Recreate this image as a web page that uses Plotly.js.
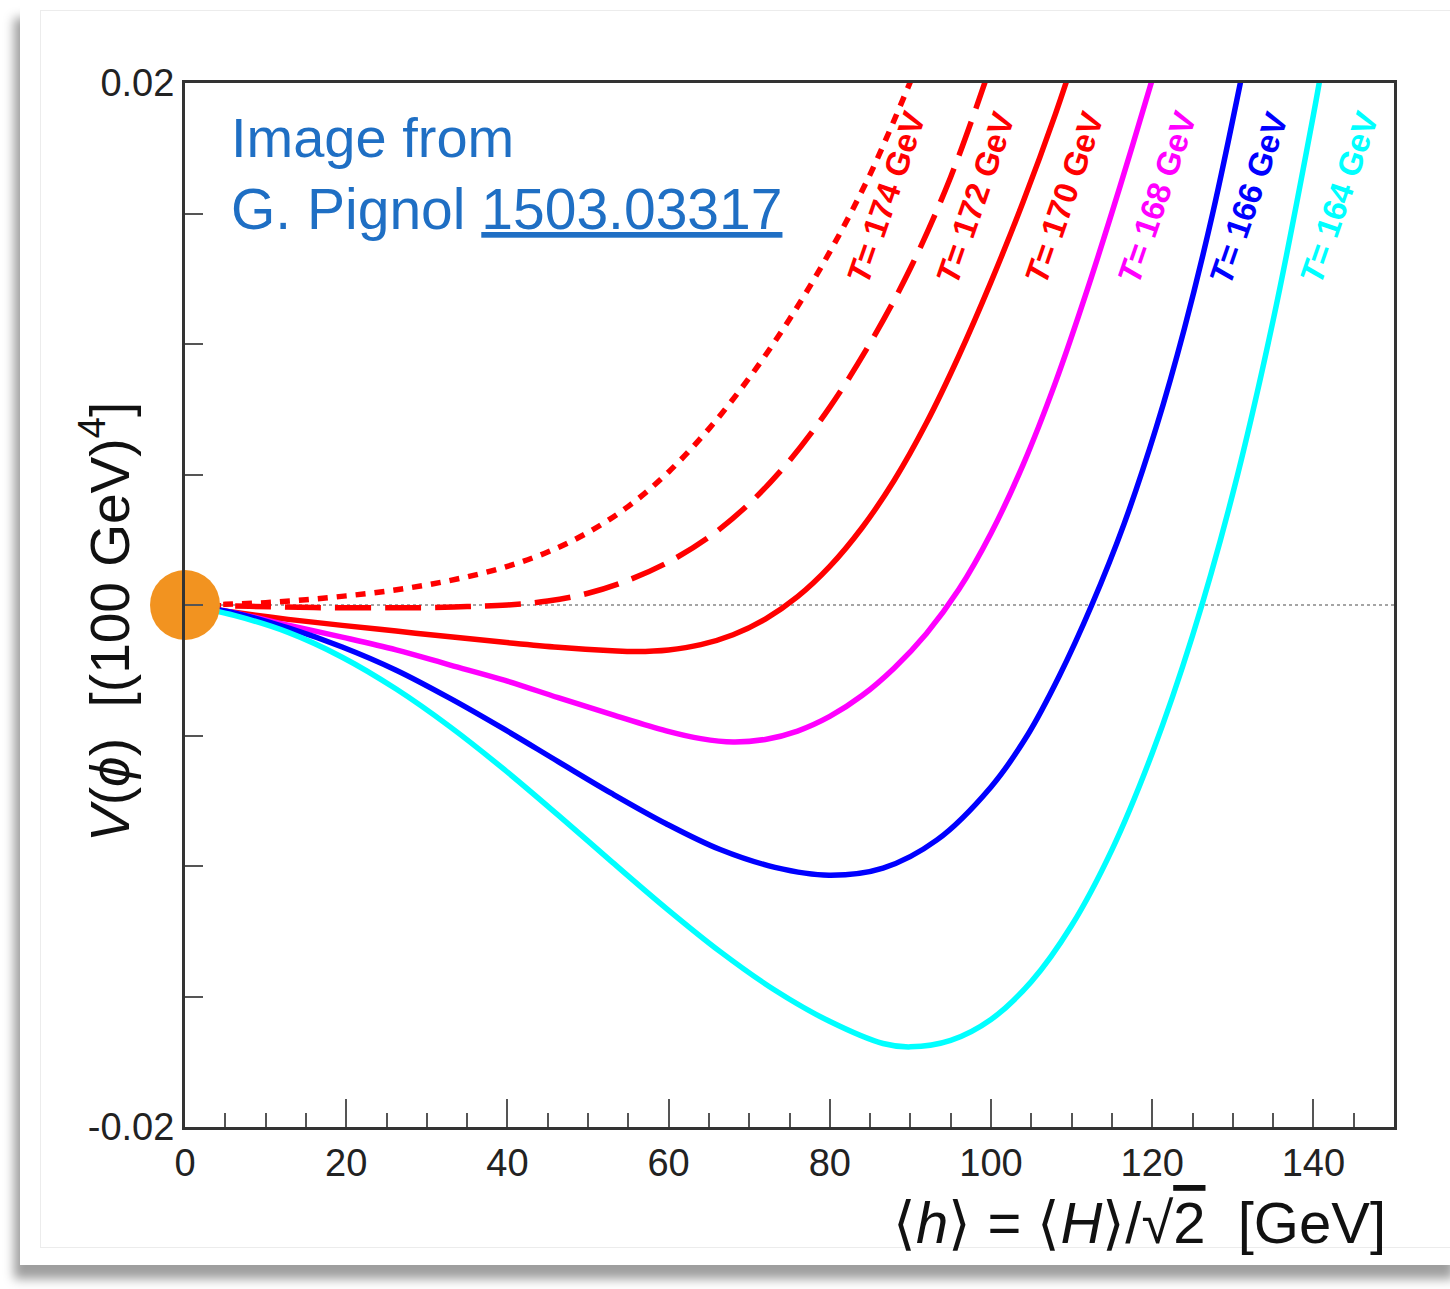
<!DOCTYPE html>
<html>
<head>
<meta charset="utf-8">
<script src="https://cdn.plot.ly/plotly-3.0.1.min.js"></script>
<style>
  html, body { margin:0; padding:0; background:#ffffff; width:1450px; height:1289px; overflow:hidden; }
  #card { position:absolute; left:20px; top:4px; width:1440px; height:1261px; background:#ffffff;
          box-shadow: -6px 14px 10px rgba(0,0,0,0.38); }
  #inner { position:absolute; left:40px; top:10px; width:1420px; height:1236px;
           border-top:1px solid #ececec; border-left:1px solid #ececec; border-bottom:1px solid #ececec; }
  #chart { position:absolute; left:0; top:0; width:1450px; height:1289px; }
</style>
</head>
<body>
<div id="card"></div>
<div id="inner"></div>
<div id="chart"></div>
<script>
// ---- data ----
// x: <h> in GeV, y: V(phi) in (100 GeV)^4
const h174 = [0, 5, 10, 15, 20, 25, 30, 35, 40, 45, 50, 55, 60, 65, 70, 75, 80, 85, 90, 91];
const v174 = [0, 0.000025, 0.00009, 0.0002, 0.00035, 0.00053, 0.00077, 0.00108, 0.00148, 0.00203, 0.00278, 0.00378, 0.0051, 0.00675, 0.0087, 0.01095, 0.01353, 0.0165, 0.02005, 0.0208];

const h172 = [0, 8, 16, 24, 30, 35, 40, 45, 50, 55, 60, 65, 70, 75, 80, 85, 90, 95, 100];
const v172 = [0, -0.00005, -0.0001, -0.00011, -0.0001, -0.00006, 0, 0.00015, 0.00045, 0.00095, 0.00165, 0.0026, 0.00388, 0.00553, 0.00758, 0.01003, 0.0129, 0.0164, 0.0207];

const h170 = [0, 6.1, 12.8, 19.5, 26.2, 32.9, 39.6, 46.3, 53, 56, 60, 64, 68, 72, 76, 80, 84, 88, 92, 96, 100, 104, 108, 110];
const v170 = [0, -0.00028, -0.00055, -0.00078, -0.001, -0.00122, -0.00143, -0.00162, -0.00175, -0.00178, -0.00172, -0.00152, -0.00114, -0.00054, 0.00032, 0.00148, 0.00296, 0.00478, 0.00698, 0.00954, 0.01238, 0.01546, 0.01882, 0.02066];

const h168 = [0, 6.1, 12.8, 19.5, 26.2, 32.9, 39.6, 46.3, 53, 59.7, 64, 68, 72, 76, 80, 84, 88, 92, 96, 100, 104, 108, 112, 116, 120, 121];
const v168 = [0, -0.0003, -0.00077, -0.00123, -0.00172, -0.0023, -0.00288, -0.00355, -0.0042, -0.00482, -0.00512, -0.00525, -0.00515, -0.00483, -0.00427, -0.00347, -0.00241, -0.00109, 0.00059, 0.00275, 0.00539, 0.00853, 0.01213, 0.01603, 0.02013, 0.0212];

const h166 = [0, 6.1, 12.8, 19.5, 26.2, 32.9, 39.6, 46.3, 53, 59.7, 66.4, 73.2, 79.9, 86.6, 93.3, 100, 104.5, 108.5, 112.5, 116.5, 120.5, 124, 127.5, 131];
const v166 = [0, -0.0003, -0.00088, -0.00161, -0.0025, -0.00358, -0.00476, -0.006, -0.00723, -0.00838, -0.00937, -0.01005, -0.01035, -0.01008, -0.009, -0.00697, -0.005, -0.0027, 0, 0.0031, 0.0068, 0.0106, 0.015, 0.0201];

const h164 = [0, 6.1, 12.8, 19.5, 26.2, 32.9, 39.6, 46.3, 53, 59.7, 66.4, 73.2, 79.9, 86.6, 90, 95, 100, 105, 110, 115, 120, 125, 130, 135, 140, 141];
const v164 = [0, -0.0004, -0.00105, -0.002, -0.00322, -0.00467, -0.0063, -0.00805, -0.00985, -0.01162, -0.01328, -0.01476, -0.01594, -0.0168, -0.01693, -0.01668, -0.01588, -0.01443, -0.01228, -0.00938, -0.00568, -0.00118, 0.00427, 0.0109, 0.01877, 0.0205];

const seriesNames = ['T= 174 GeV', 'T= 172 GeV', 'T= 170 GeV', 'T= 168 GeV', 'T= 166 GeV', 'T= 164 GeV'];
const seriesColors = ['#ff0000', '#ff0000', '#ff0000', '#ff00ff', '#0000ff', '#00ffff'];
const seriesDash = ['10px,9px', '36px,14px', 'solid', 'solid', 'solid', 'solid'];
const xs = [h174, h172, h170, h168, h166, h164];
const ys = [v174, v172, v170, v168, v166, v164];
// label anchor positions (data coords) for the rotated curve labels
const labelX = [87.0, 98.1, 109.1, 120.6, 132.0, 143.2];
const labelY = [0.0156, 0.0156, 0.0156, 0.0156, 0.0156, 0.0156];

const xTickVals = [0, 20, 40, 60, 80, 100, 120, 140];
const yTickVals = [-0.02, -0.015, -0.01, -0.005, 0, 0.005, 0.01, 0.015, 0.02];
const yTickText = ['-0.02', ' ', ' ', ' ', ' ', ' ', ' ', ' ', '0.02'];

const FONT = 'Liberation Sans, Arial, Helvetica, sans-serif';

const traces = xs.map((x, i) => ({
  type: 'scatter', mode: 'lines', x: x, y: ys[i], name: seriesNames[i],
  line: { color: seriesColors[i], width: 5.5, dash: seriesDash[i], shape: 'spline', smoothing: 1 },
  hoverinfo: 'skip'
}));
traces.push({
  type: 'scatter', mode: 'markers', x: [0], y: [0], cliponaxis: false,
  marker: { size: 70, color: '#f29320', line: { width: 0 } }, hoverinfo: 'skip'
});

const annotations = seriesNames.map((s, i) => ({
  x: labelX[i], y: labelY[i], xref: 'x', yref: 'y',
  text: '<b><i>T</i>' + s.slice(1) + '</b>',
  textangle: -71, showarrow: false, xanchor: 'center', yanchor: 'middle',
  font: { family: FONT, size: 33, color: seriesColors[i] }
}));
annotations.push(
  { xref: 'paper', yref: 'paper', x: 0.036, y: 0.948, xanchor: 'left', yanchor: 'middle', showarrow: false,
    text: 'Image from', font: { family: FONT, size: 56, color: '#1f6fc4' } },
  { xref: 'paper', yref: 'paper', x: 0.036, y: 0.879, xanchor: 'left', yanchor: 'middle', showarrow: false,
    text: 'G. Pignol <u>1503.03317</u>', font: { family: FONT, size: 57, color: '#1f6fc4' } },
  { xref: 'paper', yref: 'paper', x: -0.066, y: 0.484, xanchor: 'center', yanchor: 'middle', showarrow: false,
    textangle: -90,
    text: '<i>V</i>(<i>ϕ</i>)\u00a0\u00a0[(100 GeV)<sup>4</sup>]', font: { family: FONT, size: 55, color: '#111' } },
  { xref: 'paper', yref: 'paper', x: 0.995, y: -0.091, xanchor: 'right', yanchor: 'middle', showarrow: false,
    text: '⟨<i>h</i>⟩ = ⟨<i>H</i>⟩/√<span style="text-decoration:overline">2</span>\u00a0\u00a0[GeV]',
    font: { family: FONT, size: 58, color: '#111' } }
);

const layout = {
  width: 1450, height: 1289,
  margin: { l: 185, r: 56, t: 83, b: 162, pad: 0 },
  paper_bgcolor: 'rgba(0,0,0,0)', plot_bgcolor: '#ffffff',
  showlegend: false,
  font: { family: FONT, color: '#222' },
  xaxis: {
    range: [0, 150], tickmode: 'array', tickvals: xTickVals,
    ticks: 'inside', ticklen: 28, tickwidth: 2, tickcolor: '#555',
    minor: { dtick: 5, tick0: 0, ticks: 'inside', ticklen: 14, tickwidth: 2, tickcolor: '#555', showgrid: false },
    showgrid: false, zeroline: false, showline: true, mirror: true, linecolor: '#333', linewidth: 3,
    tickfont: { family: FONT, size: 38, color: '#222' }
  },
  yaxis: {
    range: [-0.02, 0.02], tickmode: 'array', tickvals: yTickVals, ticktext: yTickText,
    ticks: 'inside', ticklen: 18, tickwidth: 2, tickcolor: '#555',
    showgrid: false, zeroline: false, showline: true, mirror: true, linecolor: '#333', linewidth: 3,
    tickfont: { family: FONT, size: 38, color: '#222' }
  },
  shapes: [{
    type: 'line', xref: 'paper', yref: 'y', x0: 0, x1: 1, y0: 0, y1: 0, layer: 'below',
    line: { color: '#888', width: 1.5, dash: 'dot' }
  }],
  annotations: annotations
};

Plotly.newPlot('chart', traces, layout, { staticPlot: true, displayModeBar: false });
</script>
</body>
</html>
